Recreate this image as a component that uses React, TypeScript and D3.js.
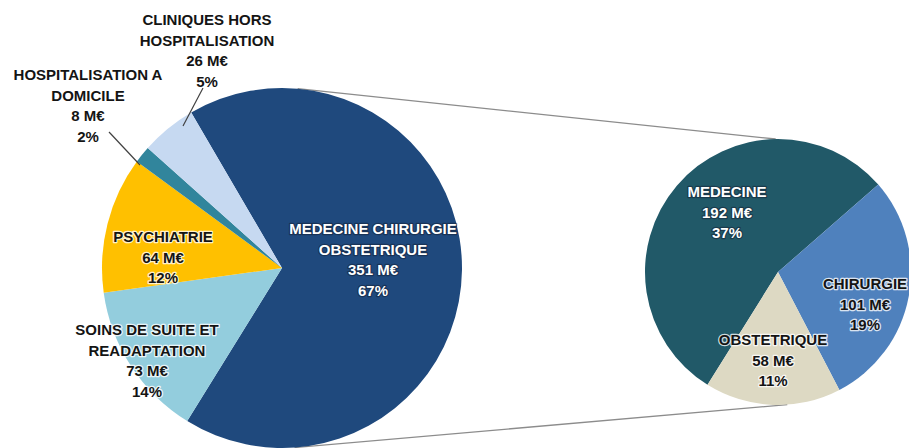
import React from "react";
import * as d3 from "d3";

const mainCategories = ["MEDECINE CHIRURGIE OBSTETRIQUE", "SOINS DE SUITE ET READAPTATION", "PSYCHIATRIE", "HOSPITALISATION A DOMICILE", "CLINIQUES HORS HOSPITALISATION"];
const mainValues = [351, 73, 64, 8, 26];
const mainPercents = ["67%", "14%", "12%", "2%", "5%"];
const mainColors = ["#1f497d", "#93cddd", "#ffc000", "#31859c", "#c6d9f1"];

const subCategories = ["MEDECINE", "CHIRURGIE", "OBSTETRIQUE"];
const subValues = [192, 101, 58];
const subPercents = ["37%", "19%", "11%"];
const subColors = ["#215968", "#4f81bd", "#ddd9c3"];

const W = 909;
const H = 448;
const deg = Math.PI / 180;

type Lbl = { lines: string[]; x: number; y: number; white?: boolean };

const mainLabels: Lbl[] = [
  { lines: ["MEDECINE CHIRURGIE", "OBSTETRIQUE", `${mainValues[0]} M€`, mainPercents[0]], x: 373, y: 229, white: true },
  { lines: ["SOINS DE SUITE ET", "READAPTATION", `${mainValues[1]} M€`, mainPercents[1]], x: 147, y: 330 },
  { lines: ["PSYCHIATRIE", `${mainValues[2]} M€`, mainPercents[2]], x: 163, y: 237 },
  { lines: ["HOSPITALISATION A", "DOMICILE", `${mainValues[3]} M€`, mainPercents[3]], x: 88, y: 75 },
  { lines: ["CLINIQUES HORS", "HOSPITALISATION", `${mainValues[4]} M€`, mainPercents[4]], x: 207, y: 20 },
];
const subLabels: Lbl[] = [
  { lines: [subCategories[0], `${subValues[0]} M€`, subPercents[0]], x: 727, y: 192, white: true },
  { lines: [subCategories[1], `${subValues[1]} M€`, subPercents[1]], x: 865, y: 284 },
  { lines: [subCategories[2], `${subValues[2]} M€`, subPercents[2]], x: 773, y: 340 },
];

export default function App() {
  const c1 = { x: 282, y: 268, r: 180 };
  const c2 = { x: 778, y: 272, r: 133 };

  const pie1 = d3.pie<number>().sort(null).value((d) => d).startAngle(-30.3 * deg).endAngle(329.7 * deg);
  const pie2 = d3.pie<number>().sort(null).value((d) => d).startAngle(-148 * deg).endAngle(212 * deg);
  const arc1 = d3.arc<d3.PieArcDatum<number>>().innerRadius(0).outerRadius(c1.r);
  const arc2 = d3.arc<d3.PieArcDatum<number>>().innerRadius(0).outerRadius(c2.r);
  const a1 = pie1(mainValues);
  const a2 = pie2(subValues);

  const pt = (c: { x: number; y: number; r: number }, a: number) => [c.x + c.r * Math.sin(a * deg), c.y - c.r * Math.cos(a * deg)];
  const t1 = pt(c1, 5);
  const t2 = pt(c2, -1);
  const b1 = pt(c1, 176);
  const b2 = pt(c2, 176);

  const renderLabel = (l: Lbl, i: number) => (
    <text
      key={i}
      x={l.x}
      y={l.y}
      textAnchor="middle"
      fontFamily="'Liberation Sans', Arial, sans-serif"
      fontWeight="bold"
      fontSize={15}
      fill={l.white ? "#ffffff" : "#141414"}
      stroke={l.white ? "rgba(20,30,50,0.5)" : "rgba(255,255,255,0.8)"}
      strokeWidth={2.5}
      paintOrder="stroke"
      strokeLinejoin="round"
    >
      {l.lines.map((s, j) => (
        <tspan key={j} x={l.x} dy={j === 0 ? "0.35em" : 20.5}>
          {s}
        </tspan>
      ))}
    </text>
  );

  return (
    <svg width={W} height={H} style={{ position: "absolute", left: 0, top: 0 }}>
      <rect width={W} height={H} fill="#ffffff" />
      <line x1={t1[0]} y1={t1[1]} x2={t2[0]} y2={t2[1]} stroke="#8c8c8c" strokeWidth={1.3} />
      <line x1={b1[0]} y1={b1[1]} x2={b2[0]} y2={b2[1]} stroke="#8c8c8c" strokeWidth={1.3} />
      <g transform={`translate(${c1.x},${c1.y})`}>
        {a1.map((d, i) => (
          <path key={i} d={arc1(d) || ""} fill={mainColors[i]} />
        ))}
      </g>
      <g transform={`translate(${c2.x},${c2.y})`}>
        {a2.map((d, i) => (
          <path key={i} d={arc2(d) || ""} fill={subColors[i]} />
        ))}
      </g>
      <line x1={203} y1={88} x2={183} y2={126} stroke="#404040" strokeWidth={1.2} />
      <line x1={109} y1={132} x2={140} y2={165} stroke="#404040" strokeWidth={1.2} />
      {mainLabels.map(renderLabel)}
      {subLabels.map((l, i) => renderLabel(l, i + 10))}
    </svg>
  );
}
